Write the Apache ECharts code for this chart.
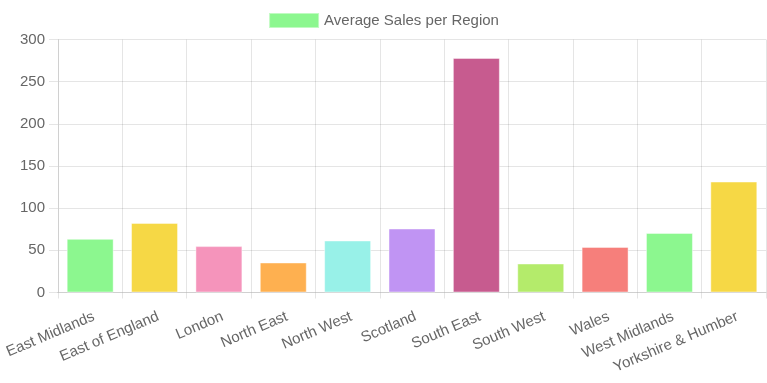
<!DOCTYPE html>
<html>
<head>
<meta charset="utf-8">
<script src="https://cdn.jsdelivr.net/npm/echarts@6/dist/echarts.min.js"></script>
<style>
html,body{margin:0;padding:0;background:#fff;}
#chart{width:767px;height:383px;}
</style>
</head>
<body>
<div id="chart"></div>
<script>
var categories = ["East Midlands","East of England","London","North East","North West","Scotland","South East","South West","Wales","West Midlands","Yorkshire & Humber"];
var salesValues = [63.6, 82.5, 55, 35.6, 61.7, 75.9, 278.2, 34.4, 54.1, 70.7, 131.6];
var barColors = ["#8cf78f","#f6d845","#f594bb","#feb050","#98f1e8","#c094f3","#c75b8f","#b4eb6b","#f67f7b","#8cf78f","#f6d845"];
var seriesName = "Average Sales per Region";
var yTicks = [0, 50, 100, 150, 200, 250, 300];

var gridColor = "rgba(0,0,0,0.1)";
var font = "Arial, 'Liberation Sans', Helvetica, sans-serif";
var chart = echarts.init(document.getElementById('chart'), null, {renderer:'canvas'});
chart.setOption({
  animation:false,
  textStyle:{fontFamily:font},
  legend:{
    top:12, left:'center', padding:0,
    icon:'rect',
    itemWidth:50, itemHeight:15, itemGap:10,
    textStyle:{color:'#666', fontSize:15, fontFamily:font},
    data:[{name:seriesName, itemStyle:{color:barColors[0]}}]
  },
  grid:{left:58, right:1, top:39.5, bottom:90.5, containLabel:false},
  xAxis:{
    type:'category', data:categories, boundaryGap:true,
    axisLine:{show:true, lineStyle:{color:'#d0d0d0'}},
    axisTick:{show:true, length:6, lineStyle:{color:gridColor}},
    splitLine:{show:true, lineStyle:{color:gridColor}},
    axisLabel:{rotate:23, color:'#666', fontSize:15, fontFamily:font, margin:25, padding:[0,-4,0,0], interval:0}
  },
  yAxis:{
    type:'value', min:yTicks[0], max:yTicks[yTicks.length-1], interval:50,
    axisLine:{show:true, lineStyle:{color:'#d0d0d0'}},
    axisTick:{show:true, length:9, lineStyle:{color:gridColor}},
    splitLine:{show:true, lineStyle:{color:gridColor}},
    axisLabel:{color:'#666', fontSize:15, fontFamily:font, margin:13}
  },
  series:[{
    name:seriesName, type:'bar', barCategoryGap:'27%',
    data:salesValues.map(function(v,i){return {value:v, itemStyle:{color:barColors[i]}};}),
    itemStyle:{borderColor:'rgba(255,255,255,0.45)', borderWidth:1}
  }]
});
</script>
</body>
</html>
